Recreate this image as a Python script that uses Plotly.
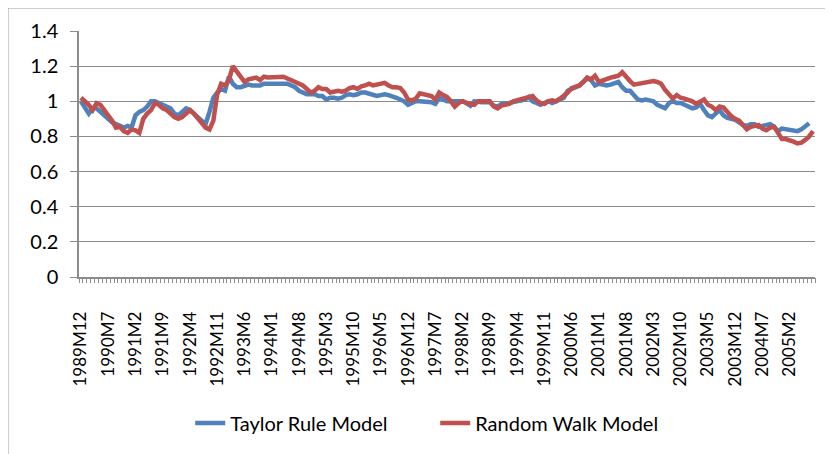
import plotly.graph_objects as go

# Month labels 1989M12 .. 2005M8
months = []
y, m = 1989, 12
for _ in range(189):
    months.append(f"{y}M{m}")
    m += 1
    if m > 12:
        m = 1
        y += 1

taylor_rule = [
    1.00, 0.97, 0.93, 0.96, 0.96, 0.94, 0.92, 0.90, 0.88, 0.87,
    0.86, 0.85, 0.86, 0.85, 0.92, 0.94, 0.95, 0.97, 1.00, 1.00,
    0.99, 0.98, 0.97, 0.96, 0.93, 0.92, 0.94, 0.96, 0.95, 0.93,
    0.91, 0.89, 0.87, 0.94, 1.02, 1.05, 1.07, 1.06, 1.14, 1.10,
    1.08, 1.08, 1.09, 1.095, 1.09, 1.09, 1.09, 1.10, 1.10, 1.10,
    1.10, 1.105, 1.10, 1.10, 1.09, 1.08, 1.06, 1.05, 1.04, 1.04,
    1.04, 1.03, 1.03, 1.01, 1.02, 1.02, 1.015, 1.02, 1.035, 1.04,
    1.035, 1.04, 1.05, 1.05, 1.045, 1.04, 1.03, 1.035, 1.04, 1.035,
    1.03, 1.02, 1.01, 1.00, 0.98, 0.99, 1.00, 1.00, 1.00, 0.995,
    0.995, 0.985, 1.02, 1.01, 1.00, 1.00, 1.00, 1.00, 1.00, 0.99,
    0.975, 1.00, 0.995, 0.995, 0.995, 0.995, 0.975, 0.97, 0.985, 0.985,
    0.99, 0.995, 1.00, 1.005, 1.01, 1.025, 1.00, 0.99, 0.98, 0.99,
    1.00, 0.99, 1.00, 1.01, 1.02, 1.06, 1.07, 1.075, 1.09, 1.11,
    1.13, 1.12, 1.09, 1.10, 1.095, 1.09, 1.095, 1.10, 1.11, 1.08,
    1.06, 1.06, 1.03, 1.01, 1.005, 1.01, 1.005, 1.00, 0.98, 0.97,
    0.96, 0.99, 1.00, 0.99, 0.99, 0.98, 0.97, 0.96, 0.965, 0.985,
    0.95, 0.92, 0.91, 0.93, 0.95, 0.92, 0.905, 0.90, 0.895, 0.88,
    0.865, 0.86, 0.87, 0.87, 0.855, 0.86, 0.865, 0.87, 0.855, 0.83,
    0.845, 0.84, 0.84, 0.83, 0.83, 0.84, 0.855, 0.875, None,
]

random_walk = [
    1.02, 1.00, 0.98, 0.95, 0.99, 0.98, 0.95, 0.93, 0.89, 0.85,
    0.855, 0.83, 0.82, 0.84, 0.835, 0.82, 0.90, 0.93, 0.95, 0.99,
    0.98, 0.96, 0.95, 0.93, 0.91, 0.90, 0.91, 0.93, 0.95, 0.93,
    0.90, 0.88, 0.85, 0.84, 0.89, 1.04, 1.10, 1.09, 1.12, 1.20,
    1.17, 1.13, 1.11, 1.125, 1.13, 1.135, 1.12, 1.14, 1.135, 1.135,
    1.14, 1.135, 1.14, 1.13, 1.12, 1.11, 1.10, 1.09, 1.07, 1.05,
    1.06, 1.08, 1.07, 1.07, 1.05, 1.055, 1.06, 1.055, 1.06, 1.075,
    1.08, 1.07, 1.085, 1.09, 1.10, 1.09, 1.095, 1.10, 1.105, 1.09,
    1.08, 1.08, 1.075, 1.05, 1.01, 1.005, 1.015, 1.045, 1.04, 1.035,
    1.03, 1.01, 1.05, 1.035, 1.025, 1.00, 0.97, 0.99, 1.00, 0.99,
    0.985, 0.98, 1.00, 1.00, 0.995, 1.00, 0.97, 0.96, 0.975, 0.98,
    0.985, 1.00, 1.005, 1.01, 1.015, 1.02, 1.03, 1.005, 0.99, 0.985,
    1.00, 1.005, 1.00, 1.015, 1.03, 1.05, 1.075, 1.08, 1.09, 1.11,
    1.135, 1.125, 1.145, 1.11, 1.12, 1.125, 1.135, 1.14, 1.145, 1.165,
    1.135, 1.115, 1.095, 1.10, 1.105, 1.105, 1.11, 1.115, 1.11, 1.10,
    1.065, 1.04, 1.015, 1.035, 1.02, 1.015, 1.01, 1.00, 0.985, 1.00,
    1.01, 0.98, 0.97, 0.95, 0.97, 0.965, 0.94, 0.915, 0.90, 0.89,
    0.865, 0.84, 0.855, 0.86, 0.865, 0.845, 0.835, 0.85, 0.855, 0.82,
    0.785, 0.785, 0.78, 0.77, 0.76, 0.765, 0.78, 0.80, 0.83,
]

tick_step = 7
y_ticks = [0, 0.2, 0.4, 0.6, 0.8, 1.0, 1.2, 1.4]

x_idx = list(range(len(months)))
tick_idx = x_idx[::tick_step]
tick_txt = months[::tick_step]
x_range = [-0.5, len(months) - 0.5]

FONT = "Lato"
FS = 20
XFS = 17
GRID = "#8c8c8c"

fig = go.Figure()
fig.add_trace(go.Scatter(x=x_idx, y=taylor_rule, mode="lines", name="Taylor Rule Model",
                         line=dict(color="#4F81BD", width=4.5), connectgaps=False))
# second series lives on the overlaid x axis (identical range), which carries the per-month ticks
fig.add_trace(go.Scatter(x=x_idx, y=random_walk, mode="lines", name="Random Walk Model",
                         xaxis="x2", yaxis="y",
                         line=dict(color="#C0504D", width=4.5)))

# page body has an 8px margin, so the figure is sized/offset to compensate
fig.update_layout(
    width=825, height=446, autosize=False,
    margin=dict(l=71, r=18, t=23, b=177, autoexpand=False),
    paper_bgcolor="white", plot_bgcolor="white",
    font=dict(family=FONT, size=FS, color="black"),
    showlegend=True,
    legend=dict(orientation="h", x=0.484, xanchor="center", y=-0.593, yanchor="middle",
                entrywidth=200, entrywidthmode="pixels",
                font=dict(family=FONT, size=FS, color="black"), bgcolor="rgba(0,0,0,0)"),
    xaxis=dict(
        range=x_range, automargin=False,
        tickmode="array", tickvals=tick_idx, ticktext=tick_txt,
        tickangle=-90, ticks="", showgrid=False, zeroline=False,
        showline=True, linecolor=GRID, linewidth=1.5,
        ticklabelstandoff=26,
        tickfont=dict(family=FONT, size=XFS, color="black"),
    ),
    xaxis2=dict(
        range=x_range, overlaying="x", anchor="y", side="bottom", automargin=False,
        tickmode="linear", tick0=0.5, dtick=1, ticks="outside", ticklen=5,
        tickcolor=GRID, tickwidth=1, showticklabels=False,
        showgrid=False, zeroline=False, showline=False,
    ),
    yaxis=dict(
        range=[0, 1.4], tickmode="array", tickvals=y_ticks, automargin=False,
        ticks="outside", ticklen=7, tickcolor=GRID, tickwidth=1,
        showgrid=True, gridcolor=GRID, gridwidth=1,
        showline=True, linecolor=GRID, linewidth=1.5, zeroline=False,
        ticklabelstandoff=8,
        tickfont=dict(family=FONT, size=FS, color="black"),
    ),
    shapes=[dict(type="rect", xref="paper", yref="paper",
                 x0=-0.0965, x1=1.04, y0=-0.75, y1=1.0935,
                 line=dict(color="#9a9a9a", width=1), fillcolor="rgba(0,0,0,0)", layer="below")],
)

fig.write_html("out.html")
